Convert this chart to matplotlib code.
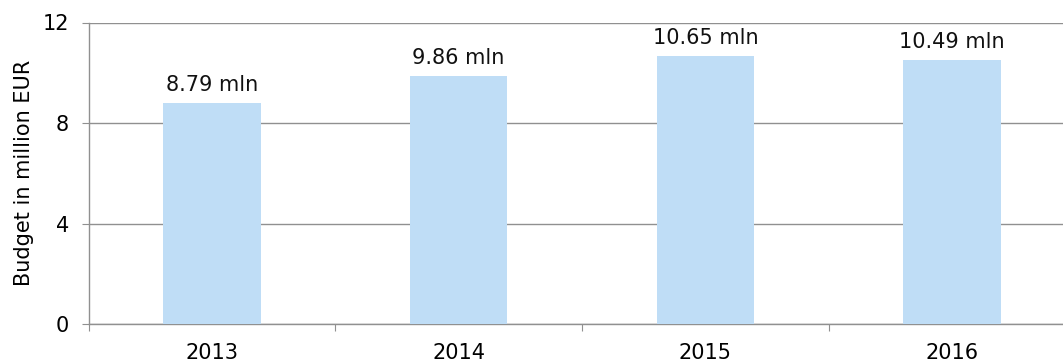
import matplotlib.pyplot as plt
import numpy as np

# budget per year
years = ["2013", "2014", "2015", "2016"]
budget = [8.79, 9.86, 10.65, 10.49]
labels = ["8.79 mln", "9.86 mln", "10.65 mln", "10.49 mln"]
yticks = [0, 4, 8, 12]

fs = 15
plt.rcParams["font.family"] = "DejaVu Sans"
fig = plt.figure(figsize=(10.63, 3.63), dpi=100)
ax = fig.add_axes([88.5 / 1063, 1 - 324 / 363, 987 / 1063, 301.5 / 363])

x = np.arange(len(years))
ax.bar(x, budget, width=0.395, color="#bfddf6", zorder=3)
for xi, v, lab in zip(x, budget, labels):
    ax.annotate(lab, (xi, v), xytext=(0, 6), textcoords="offset points",
                ha="center", va="bottom", fontsize=fs, color="#111111")

ax.set_xlim(-0.5, len(years) - 0.5)
ax.set_ylim(0, 12)
ax.set_yticks(yticks)
ax.set_yticklabels([str(t) for t in yticks], fontsize=fs)
ax.yaxis.grid(True, color="#909090", linewidth=1.0, zorder=0)
ax.set_axisbelow(True)

# category ticks sit between the bars
ax.set_xticks(np.arange(-0.5, len(years) + 0.5, 1.0))
ax.set_xticklabels([])
ax.set_xticks(x, minor=True)
ax.set_xticklabels(years, minor=True, fontsize=fs)
ax.tick_params(axis="x", which="minor", length=0, pad=14)
ax.tick_params(axis="x", which="major", length=5, color="#909090", direction="out")
ax.tick_params(axis="y", length=5, color="#909090", pad=9)

ax.set_ylabel("Budget in million EUR", fontsize=fs, labelpad=6)

for s in ["top", "right"]:
    ax.spines[s].set_visible(False)
for s in ["left", "bottom"]:
    ax.spines[s].set_color("#909090")
    ax.spines[s].set_linewidth(1.0)

fig.savefig("out.png", dpi=100)
